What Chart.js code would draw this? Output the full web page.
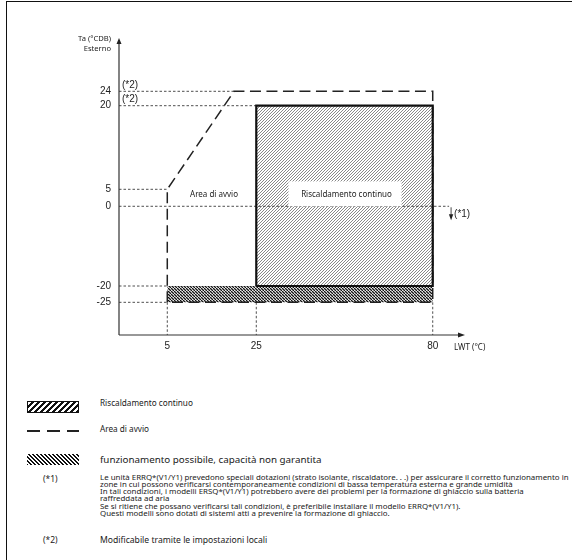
<!DOCTYPE html>
<html>
<head>
<meta charset="utf-8">
<script src="https://cdn.jsdelivr.net/npm/chart.js@4.4.1/dist/chart.umd.min.js"></script>
<style>
body { margin: 0; background: #fff; width: 572px; height: 560px; overflow: hidden; position: relative; font-family: 'Noto Sans', sans-serif; color: #1a1a1a; }
#frame { position: absolute; left: 6px; top: 1px; right: -2px; bottom: -2px; border-top: 1.5px solid #111; border-left: 1.5px solid #111; }
#wrap { position: absolute; left: 0; top: 0; width: 572px; height: 380px; }
.key { position: absolute; left: 27px; width: 52px; }
.txt { position: absolute; left: 100px; white-space: nowrap; }
.ref { position: absolute; left: 43px; font-size: 8.5px; line-height: 10px; }
</style>
</head>
<body>
<div id="frame"></div>
<div id="wrap"><canvas id="chart" width="572" height="380"></canvas></div>

<div class="key" style="top:401px;height:12px;border:1px solid #111;box-sizing:border-box;background:repeating-linear-gradient(-45deg,#111 0 1.8px,#fff 1.8px 4.2px);"></div>
<div class="txt" style="top:397px;font-size:8.2px;line-height:12px;">Riscaldamento continuo</div>

<div class="key" style="top:430px;height:1.5px;background:repeating-linear-gradient(90deg,#222 0 13px,transparent 13px 20px);"></div>
<div class="txt" style="top:423px;font-size:8.2px;line-height:12px;">Area di avvio</div>

<div class="key" style="top:454px;height:11px;background:repeating-linear-gradient(45deg,#111 0 1.3px,#fff 1.3px 2.8px);"></div>
<div class="txt" style="top:453px;font-size:9.8px;line-height:13px;">funzionamento possibile, capacità non garantita</div>

<div class="ref" style="top:473.5px;">(*1)</div>
<div class="txt" style="top:473.7px;font-size:7.9px;line-height:7.2px;">
Le unità ERRQ*(V1/Y1) prevedono speciali dotazioni (strato isolante, riscaldatore. . .) per assicurare il corretto funzionamento in<br>
zone in cui possono verificarsi contemporaneamente condizioni di bassa temperatura esterna e grande umidità<br>
In tali condizioni, i modelli ERSQ*(V1/Y1) potrebbero avere dei problemi per la formazione di ghiaccio sulla batteria<br>
raffreddata ad aria<br>
Se si ritiene che possano verificarsi tali condizioni, è preferibile installare il modello ERRQ*(V1/Y1).<br>
Questi modelli sono dotati di sistemi atti a prevenire la formazione di ghiaccio.
</div>

<div class="ref" style="top:535px;">(*2)</div>
<div class="txt" style="top:535px;font-size:8.6px;line-height:10px;">Modificabile tramite le impostazioni locali</div>

<script>
// tick values
const xTicks = [5, 25, 80];
const yTicks = [24, 20, 5, 0, -20, -25];

// continuous heating (LWT / outdoor temp)
const heatLWT = [25, 25, 80, 80, 25];
const heatTa = [-20, 20, 20, -20, -20];

// start-up area boundary
const startLWT = [5, 5, 20, 80, 80, 5];
const startTa = [-25, 5, 24, 24, -25, -25];

// operation possible, capacity not guaranteed
const stripLWT = [5, 80];
const stripTop = [-20, -20];
const stripBottom = [-25, -25];

// reference lines
const guideTa = [24, 20, 5, 0, -20, -25];
const guideToLWT = [20, 25, 5, 86, 5, 5];
const dropLWT = [5, 25, 80];

const pts = (xs, ys) => xs.map((v, i) => ({ x: v, y: ys[i] }));

// piecewise axis, the drawing is not to scale
class SchematicScale extends Chart.LinearScale {
    static id = 'schematic';
    getPixelForValue(value) {
        const s = this.options.stops;
        let f = s[s.length - 1][1];
        if (value <= s[0][0]) f = s[0][1];
        else {
            for (let i = 1; i < s.length; i++) {
                if (value <= s[i][0]) {
                    const a = s[i - 1], b = s[i];
                    f = a[1] + (value - a[0]) / (b[0] - a[0]) * (b[1] - a[1]);
                    break;
                }
            }
        }
        return this.getPixelForDecimal(f);
    }
}
Chart.register(SchematicScale);

function hatch(size, color, width, back) {
    const c = document.createElement('canvas');
    c.width = size; c.height = size;
    const g = c.getContext('2d');
    g.fillStyle = '#fff';
    g.fillRect(0, 0, size, size);
    g.strokeStyle = color;
    g.lineWidth = width;
    g.beginPath();
    if (back) {
        g.moveTo(-1, -1); g.lineTo(size + 1, size + 1);
        g.moveTo(-1, size - 1); g.lineTo(1, size + 1);
        g.moveTo(size - 1, -1); g.lineTo(size + 1, 1);
    } else {
        g.moveTo(-1, size + 1); g.lineTo(size + 1, -1);
        g.moveTo(-1, 1); g.lineTo(1, -1);
        g.moveTo(size - 1, size + 1); g.lineTo(size + 1, size - 1);
    }
    g.stroke();
    return g.createPattern(c, 'repeat');
}

const ctx = document.getElementById('chart').getContext('2d');
const heatPattern = hatch(3, '#7a7a7a', 0.9, false);
const stripPattern = hatch(3.5, '#111', 1.3, true);

const guideSets = guideTa.map((t, i) => ({
    data: pts([0, guideToLWT[i]], [t, t]),
    borderColor: '#222', borderWidth: 0.8, borderDash: [2.5, 2], pointRadius: 0, fill: false
}));
const dropSets = dropLWT.map(v => ({
    data: pts([v, v], [-25, -35]),
    borderColor: '#222', borderWidth: 0.8, borderDash: [2.5, 2], pointRadius: 0, fill: false
}));

const font = '"Noto Sans", sans-serif';

const decor = {
    id: 'decor',
    afterDatasetsDraw(chart) {
        const { ctx, scales: { x, y } } = chart;
        ctx.save();
        ctx.font = '8px ' + font;
        ctx.textAlign = 'center';
        ctx.textBaseline = 'middle';
        const rx = x.getPixelForValue(52.5), ry = y.getPixelForValue(3.5);
        ctx.fillStyle = '#fff';
        ctx.fillRect(rx - 56, ry - 13, 113, 25);
        ctx.fillStyle = '#222';
        ctx.fillText('Riscaldamento continuo', rx + 2, ry);
        ctx.fillText('Area di avvio', x.getPixelForValue(15.5), ry);
        ctx.restore();
    },
    afterDraw(chart) {
        const { ctx, chartArea: a, scales: { x, y } } = chart;
        ctx.save();
        ctx.strokeStyle = '#333';
        ctx.fillStyle = '#222';
        ctx.lineWidth = 1.2;
        ctx.beginPath();
        ctx.moveTo(a.left, a.bottom); ctx.lineTo(a.left, a.top);
        ctx.moveTo(a.left, a.bottom); ctx.lineTo(a.right + 2, a.bottom);
        ctx.stroke();
        ctx.beginPath();
        ctx.moveTo(a.left, a.top - 2); ctx.lineTo(a.left - 2.5, a.top + 4); ctx.lineTo(a.left + 2.5, a.top + 4);
        ctx.fill();
        ctx.beginPath();
        ctx.moveTo(a.right + 5, a.bottom); ctx.lineTo(a.right - 2, a.bottom - 2.5); ctx.lineTo(a.right - 2, a.bottom + 2.5);
        ctx.fill();

        // axis titles
        ctx.font = '7.6px ' + font;
        ctx.textBaseline = 'middle';
        ctx.textAlign = 'right';
        ctx.fillText('Ta (°CDB)', a.left - 8, 38.5);
        ctx.fillText('Esterno', a.left - 8, 49);
        ctx.font = '8px ' + font;
        ctx.textAlign = 'left';
        ctx.fillText('LWT (°C)', a.right - 6, a.bottom + 13);

        // local setting notes
        ctx.font = '10px "Liberation Sans", Arial, sans-serif';
        ctx.fillText('(*2)', a.left + 3, y.getPixelForValue(24) - 6.5);
        ctx.fillText('(*2)', a.left + 3, y.getPixelForValue(20) - 6.5);

        // (*1) arrow below 0
        const ax = x.getPixelForValue(86) + 2, ay = y.getPixelForValue(0);
        ctx.lineWidth = 0.9;
        ctx.beginPath();
        ctx.moveTo(ax, ay + 1); ctx.lineTo(ax, ay + 10);
        ctx.stroke();
        ctx.beginPath();
        ctx.moveTo(ax, ay + 14); ctx.lineTo(ax - 2.2, ay + 8); ctx.lineTo(ax + 2.2, ay + 8);
        ctx.fill();
        ctx.fillText('(*1)', ax + 3, ay + 8);
        ctx.restore();
    }
};

new Chart(ctx, {
    type: 'line',
    data: {
        datasets: [
            {
                data: pts(heatLWT, heatTa),
                borderColor: '#111', borderWidth: 2.2, pointRadius: 0, fill: false
            },
            {
                data: pts(startLWT, startTa),
                borderColor: '#222', borderWidth: 1.5, borderDash: [11, 5.5], pointRadius: 0, fill: false
            },
            ...guideSets,
            ...dropSets,
            {
                data: pts(stripLWT, stripTop),
                borderWidth: 0, pointRadius: 0, backgroundColor: stripPattern, fill: '+1'
            },
            {
                data: pts(stripLWT, stripBottom),
                borderWidth: 0, pointRadius: 0, fill: false
            },
            {
                data: pts([25, 80], [20, 20]),
                borderWidth: 0, pointRadius: 0, backgroundColor: heatPattern, fill: '+1'
            },
            {
                data: pts([25, 80], [-20, -20]),
                borderWidth: 0, pointRadius: 0, fill: false
            }
        ]
    },
    options: {
        responsive: false,
        devicePixelRatio: 1,
        animation: false,
        events: [],
        layout: { padding: { left: 0, top: 40, right: 112, bottom: 0 } },
        elements: { line: { tension: 0, borderCapStyle: 'butt' } },
        plugins: { legend: { display: false }, tooltip: { enabled: false } },
        scales: {
            x: {
                type: 'schematic',
                min: 0, max: 90,
                stops: [[0, 0], [5, 0.1416], [25, 0.4026], [80, 0.92], [90, 1]],
                grid: { display: false, drawTicks: false },
                border: { display: false },
                afterBuildTicks: s => { s.ticks = xTicks.map(v => ({ value: v })); },
                afterFit: s => { s.height = 45; },
                ticks: {
                    padding: 5,
                    color: '#222',
                    font: { family: '"Liberation Sans", Arial, sans-serif', size: 10 },
                    callback: v => String(v)
                }
            },
            y: {
                type: 'schematic',
                min: -35, max: 35,
                stops: [[-35, 0], [-25, 0.1108], [-20, 0.1661], [0, 0.4363], [5, 0.4939], [20, 0.7773], [24, 0.8261], [35, 1]],
                grid: { display: false, drawTicks: false },
                border: { display: false },
                afterBuildTicks: s => { s.ticks = yTicks.map(v => ({ value: v })); },
                afterFit: s => { s.width = 119; },
                ticks: {
                    padding: 8,
                    color: '#222',
                    font: { family: '"Liberation Sans", Arial, sans-serif', size: 10 },
                    callback: v => String(v)
                }
            }
        }
    },
    plugins: [decor]
});
</script>
</body>
</html>
